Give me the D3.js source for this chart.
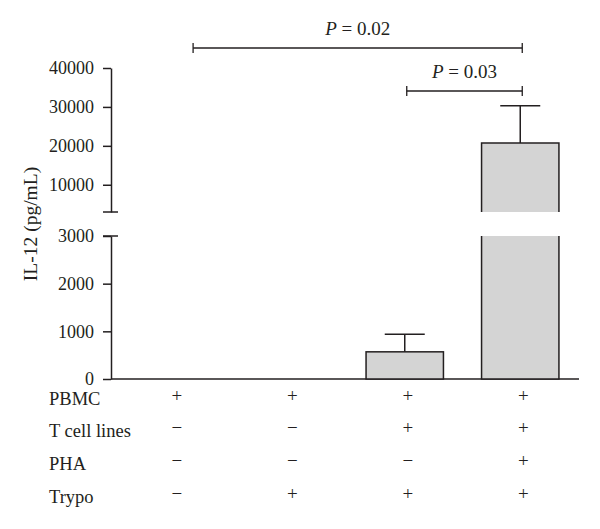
<!DOCTYPE html>
<html>
<head>
<meta charset="utf-8">
<script src="https://cdn.jsdelivr.net/npm/d3@7"></script>
<style>
  body { margin: 0; background: #fff; }
  svg text { font-family: "Liberation Serif", "DejaVu Serif", serif; fill: #231f20; }
</style>
</head>
<body>
<svg id="chart" width="600" height="529"></svg>
<script>
// groups (bars), left to right
const groups = ["A", "B", "C", "D"];
const means = [0, 0, 570, 20700];
const errUp = [0, 0, 370, 9600];

// condition table under the x axis
const rowLabels = ["PBMC", "T cell lines", "PHA", "Trypo"];
const rowSigns = [
  ["+", "+", "+", "+"],
  ["−", "−", "+", "+"],
  ["−", "−", "−", "+"],
  ["−", "+", "+", "+"]
];

// broken y axis: lower and upper segments
const lowerTicks = [0, 1000, 2000, 3000];
const upperTicks = [10000, 20000, 30000, 40000];
const lowerDomain = [0, 3000];
const upperDomain = [3000, 40000];

// significance brackets
const pLabels = ["0.02", "0.03"];
const pFrom = [0, 2];   // group index (left end)
const pTo = [3, 3];

const ink = "#231f20";
const fs = 18;
const svg = d3.select("#chart");

const x = d3.scaleBand().domain(groups).range([116, 578])
  .paddingInner(0.33).paddingOuter(0.165);
const yLow = d3.scaleLinear().domain(lowerDomain).range([379, 236]);
const yHigh = d3.scaleLinear().domain(upperDomain).range([212, 68]);
const axisX = 111;

// y axes
const styleAxis = g => {
  g.attr("font-family", null).attr("font-size", null);
  g.select(".domain").attr("stroke", ink).attr("stroke-width", 1.5);
  g.selectAll(".tick line").attr("stroke", ink).attr("stroke-width", 1.5);
  g.selectAll(".tick text").attr("font-size", fs).attr("fill", ink);
};
svg.append("g").attr("transform", `translate(${axisX},0)`)
  .call(d3.axisLeft(yLow).tickValues(lowerTicks).tickFormat(d3.format("d"))
    .tickSize(8).tickPadding(9).tickSizeOuter(0))
  .call(styleAxis);
svg.append("g").attr("transform", `translate(${axisX},0)`)
  .call(d3.axisLeft(yHigh).tickValues(upperTicks).tickFormat(d3.format("d"))
    .tickSize(8).tickPadding(9).tickSizeOuter(0))
  .call(styleAxis);

// break caps on the axis
[yHigh(upperDomain[0]), yLow(lowerDomain[1])].forEach(yy => {
  svg.append("line").attr("x1", axisX - 8).attr("x2", axisX + 7)
    .attr("y1", yy).attr("y2", yy).attr("stroke", ink).attr("stroke-width", 1.5);
});

// x axis line
svg.append("line").attr("x1", axisX).attr("x2", 579)
  .attr("y1", yLow(0)).attr("y2", yLow(0)).attr("stroke", ink).attr("stroke-width", 1.5);

// y label
svg.append("text")
  .attr("transform", "translate(37,224) rotate(-90)")
  .attr("text-anchor", "middle").attr("font-size", 19.5)
  .text("IL-12 (pg/mL)");

// bars
const fill = "#d4d4d4";
groups.forEach((g, i) => {
  const v = means[i];
  if (v <= 0) return;
  const x0 = x(g), x1 = x(g) + x.bandwidth();
  const cx = x(g) + x.bandwidth() / 2;
  const bars = svg.append("g");
  if (v <= lowerDomain[1]) {
    const yt = yLow(v);
    bars.append("rect").attr("x", x0).attr("y", yt).attr("width", x1 - x0)
      .attr("height", yLow(0) - yt).attr("fill", fill)
      .attr("stroke", ink).attr("stroke-width", 1.5);
    const ye = yLow(v + errUp[i]);
    bars.append("line").attr("x1", cx).attr("x2", cx).attr("y1", yt).attr("y2", ye)
      .attr("stroke", ink).attr("stroke-width", 1.5);
    bars.append("line").attr("x1", cx - 20).attr("x2", cx + 20).attr("y1", ye).attr("y2", ye)
      .attr("stroke", ink).attr("stroke-width", 1.5);
  } else {
    const yTopLow = yLow(lowerDomain[1]);
    const yBotHigh = yHigh(upperDomain[0]);
    const yt = yHigh(v);
    bars.append("rect").attr("x", x0).attr("y", yTopLow).attr("width", x1 - x0)
      .attr("height", yLow(0) - yTopLow).attr("fill", fill);
    bars.append("rect").attr("x", x0).attr("y", yt).attr("width", x1 - x0)
      .attr("height", yBotHigh - yt).attr("fill", fill);
    bars.append("path")
      .attr("d", `M${x0},${yTopLow}V${yLow(0)}H${x1}V${yTopLow}`)
      .attr("fill", "none").attr("stroke", ink).attr("stroke-width", 1.5);
    bars.append("path")
      .attr("d", `M${x0},${yBotHigh}V${yt}H${x1}V${yBotHigh}`)
      .attr("fill", "none").attr("stroke", ink).attr("stroke-width", 1.5);
    const ye = yHigh(v + errUp[i]);
    bars.append("line").attr("x1", cx).attr("x2", cx).attr("y1", yt).attr("y2", ye)
      .attr("stroke", ink).attr("stroke-width", 1.5);
    bars.append("line").attr("x1", cx - 20).attr("x2", cx + 20).attr("y1", ye).attr("y2", ye)
      .attr("stroke", ink).attr("stroke-width", 1.5);
  }
});

// significance brackets
const bracketY = [48, 91];
pLabels.forEach((p, k) => {
  const gFrom = groups[pFrom[k]], gTo = groups[pTo[k]];
  const xa = pFrom[k] === 0 ? x(gFrom) + x.bandwidth() * 0.75 : x(gFrom) + x.bandwidth() / 2 + 2;
  const xb = x(gTo) + x.bandwidth() / 2 + 2;
  const yy = bracketY[k];
  const b = svg.append("g").attr("stroke", ink).attr("stroke-width", 1.3);
  b.append("line").attr("x1", xa).attr("x2", xb).attr("y1", yy).attr("y2", yy);
  b.append("line").attr("x1", xa).attr("x2", xa).attr("y1", yy - 5).attr("y2", yy + 5);
  b.append("line").attr("x1", xb).attr("x2", xb).attr("y1", yy - 5).attr("y2", yy + 5);
  const t = svg.append("text").attr("x", (xa + xb) / 2).attr("y", yy - 13)
    .attr("text-anchor", "middle").attr("font-size", 19);
  t.append("tspan").attr("font-style", "italic").text("P");
  t.append("tspan").text(" = " + p);
});

// condition table
const rowBase = [405, 437, 470, 503];
rowLabels.forEach((lab, r) => {
  svg.append("text").attr("x", 49).attr("y", rowBase[r]).attr("font-size", 18.5).text(lab);
  rowSigns[r].forEach((s, i) => {
    svg.append("text")
      .attr("x", x(groups[i]) + x.bandwidth() / 2 + 3)
      .attr("y", rowBase[r] - 3)
      .attr("text-anchor", "middle").attr("font-size", 19)
      .text(s);
  });
});
</script>
</body>
</html>
